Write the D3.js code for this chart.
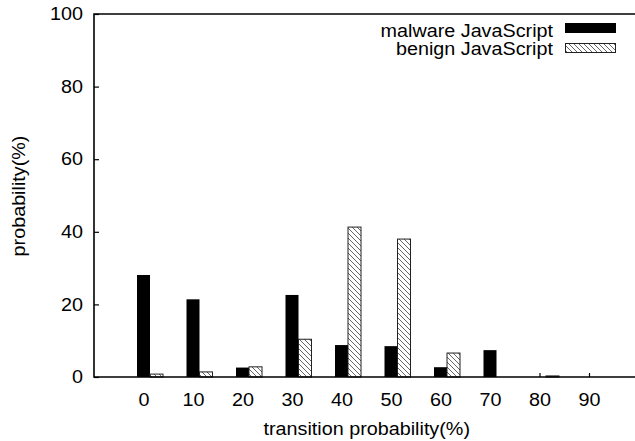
<!DOCTYPE html>
<html><head><meta charset="utf-8">
<script src="https://cdn.jsdelivr.net/npm/d3@7"></script>
<style>
html,body{margin:0;padding:0;background:#fff;}
svg text{font-family:"Liberation Sans",Arial,Helvetica,sans-serif;fill:#000;}
</style></head>
<body><svg id="c" width="635" height="441"></svg>
<script>
const categories = [0, 10, 20, 30, 40, 50, 60, 70, 80, 90];
const malware = [28.1, 21.4, 2.6, 22.6, 8.8, 8.5, 2.7, 7.4, 0, 0];
const benign = [0.8, 1.4, 2.8, 10.4, 41.3, 38.0, 6.6, 0, 0.3, 0];
const yTicks = [0, 20, 40, 60, 80, 100];
const seriesNames = ["malware JavaScript", "benign JavaScript"];
const xTitle = "transition probability(%)";
const yTitle = "probability(%)";

(function() {
const FS = 17.5, SX = 1.13;
const svg = d3.select("#c");
const pLeft = 94, pRight = 635, pTop = 14, pBottom = 377;
const x = d3.scaleLinear().domain([0, 90]).range([143.5, 589]);
const y = d3.scaleLinear().domain([0, 100]).range([pBottom, pTop]);
const bw = 13;

const defs = svg.append("defs");
const pat = defs.append("pattern").attr("id", "hatch")
  .attr("patternUnits", "userSpaceOnUse").attr("width", 5).attr("height", 5);
pat.append("rect").attr("width", 5).attr("height", 5).attr("fill", "#fff");
pat.append("path").attr("d", "M-1,-1L6,6M-1,4L1,6M4,-1L6,1")
  .attr("stroke", "#555").attr("stroke-width", 0.9);

function stretch(sel) {
  sel.each(function() {
    const t = d3.select(this);
    const tx = +t.attr("x") || 0;
    t.attr("x", 0).attr("transform", `translate(${tx},0) scale(${SX},1)`);
  });
}

const gy = svg.append("g").attr("transform", `translate(${pLeft},0)`)
  .call(d3.axisLeft(y).tickValues(yTicks).tickSize(-5).tickPadding(11).tickFormat(d3.format("d")));
gy.select(".domain").remove();
gy.selectAll("line").attr("stroke", "#000").attr("stroke-width", 1.2);
gy.selectAll("text").attr("font-size", FS).call(stretch);

const gx = svg.append("g").attr("transform", `translate(0,${pBottom})`)
  .call(d3.axisBottom(x).tickValues(categories).tickSize(-4).tickPadding(17).tickFormat(d3.format("d")));
gx.select(".domain").remove();
gx.selectAll("line").attr("stroke", "#000").attr("stroke-width", 1.2);
gx.selectAll("text").attr("font-size", FS).attr("dy", null).attr("y", 29).call(stretch);

const mw = categories.map((c, i) => ({c, v: malware[i]})).filter(d => d.v > 0);
const bn = categories.map((c, i) => ({c, v: benign[i]})).filter(d => d.v > 0);
svg.append("g").selectAll("rect").data(mw).join("rect")
  .attr("x", d => x(d.c) - bw / 2).attr("width", bw)
  .attr("y", d => y(d.v)).attr("height", d => y(0) - y(d.v))
  .attr("fill", "#000");
svg.append("g").selectAll("rect").data(bn).join("rect")
  .attr("x", d => x(d.c) + bw / 2).attr("width", bw)
  .attr("y", d => y(d.v)).attr("height", d => y(0) - y(d.v))
  .attr("fill", "url(#hatch)").attr("stroke", "#222").attr("stroke-width", 1);

svg.append("path")
  .attr("d", `M${pRight},${pTop}H${pLeft}V${pBottom}H${pRight}`)
  .attr("fill", "none").attr("stroke", "#000").attr("stroke-width", 1.6);

svg.append("text").attr("font-size", FS).attr("text-anchor", "middle")
  .attr("transform", `translate(${(x(0) + x(90)) / 2 + 0.5},435) scale(${SX},1)`)
  .text(xTitle);
svg.append("text").attr("font-size", FS).attr("text-anchor", "middle")
  .attr("transform", `translate(25,196) rotate(-90) scale(${SX},1)`)
  .text(yTitle);

const leg = svg.append("g");
const legY = [37, 55];
seriesNames.forEach((n, i) => {
  leg.append("text").attr("font-size", FS).attr("text-anchor", "end")
    .attr("transform", `translate(553,${legY[i]}) scale(${SX},1)`).text(n);
});
leg.append("rect").attr("x", 565).attr("y", 23).attr("width", 51).attr("height", 10).attr("fill", "#000");
leg.append("rect").attr("x", 565.5).attr("y", 43.5).attr("width", 50).attr("height", 9)
  .attr("fill", "url(#hatch)").attr("stroke", "#222").attr("stroke-width", 1);
})();
</script></body></html>
